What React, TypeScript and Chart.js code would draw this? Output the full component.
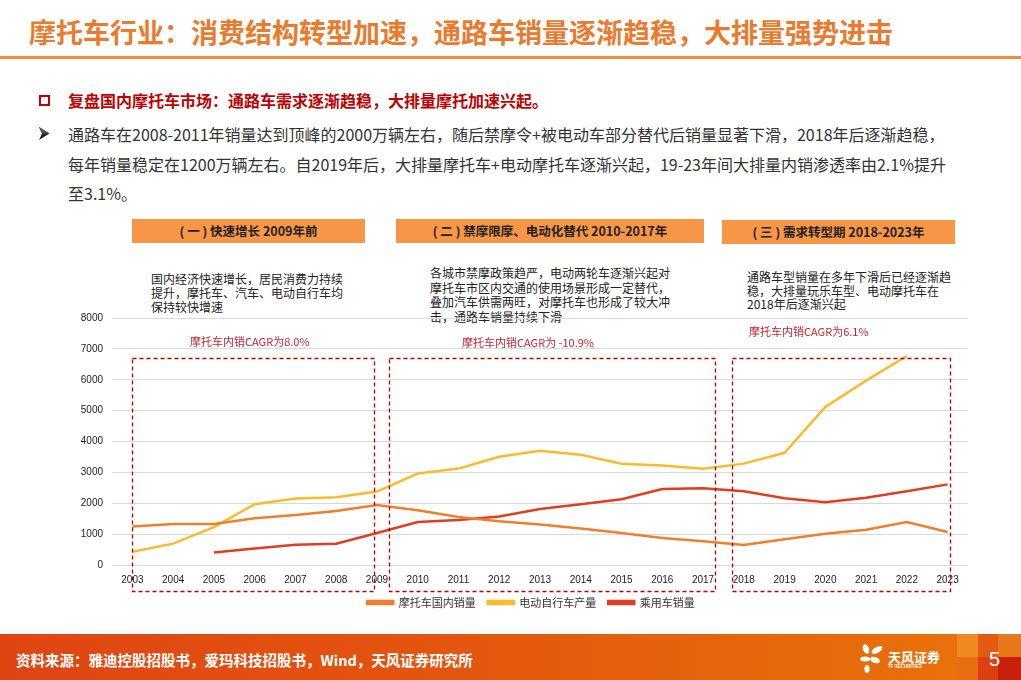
import React, { useEffect, useRef } from "react";
import { Chart, registerables } from "chart.js";

Chart.register(...registerables);

const YEARS = ["2003","2004","2005","2006","2007","2008","2009","2010","2011","2012","2013","2014","2015","2016","2017","2018","2019","2020","2021","2022","2023"];
const MOTO_SALES = [1248,1331,1331,1514,1619,1747,1939,1770,1555,1418,1312,1184,1034,874,768,650,832,1011,1139,1395,1066];
const EBIKE_OUTPUT = [426,691,1226,1971,2154,2195,2378,2963,3123,3507,3699,3571,3283,3219,3114,3283,3635,5120,5971,6771,null];
const CAR_SALES = [null,null,403,531,659,691,1034,1395,1459,1568,1811,1971,2131,2464,2483,2389,2165,2035,2176,2387,2611];
const SERIES_NAMES = ["摩托车国内销量","电动自行车产量","乘用车销量"];
const Y_MAX = 8000;
const Y_STEP = 1000;

const PERIOD_FROM = ["2003","2009","2018"];
const PERIOD_TO = ["2009","2017","2023"];

const CJK = '"Noto Sans CJK SC", "Noto Sans", sans-serif';

const periodBoxes = {
  id: "periodBoxes",
  afterLayout(chart: any) {
    if (chart.legend) {
      chart.legend.left -= 9;
      chart.legend.right -= 9;
    }
  },
  afterDraw(chart: any) {
    const { ctx, scales, chartArea } = chart;
    const x = scales.x;
    const y = scales.y;
    const step = x.getPixelForValue(1) - x.getPixelForValue(0);
    const offsL = [-0.02, 0.3, -0.29];
    const offsR = [-0.08, 0.3, 0.05];
    const top = y.getPixelForValue(6720);
    const bottom = chartArea.bottom + 26;
    ctx.save();
    ctx.setLineDash([4, 3]);
    ctx.lineWidth = 1.3;
    ctx.strokeStyle = "#C00000";
    for (let i = 0; i < PERIOD_FROM.length; i++) {
      const l = x.getPixelForValue(YEARS.indexOf(PERIOD_FROM[i])) + offsL[i] * step;
      const r = x.getPixelForValue(YEARS.indexOf(PERIOD_TO[i])) + offsR[i] * step;
      ctx.strokeRect(Math.round(l) + 0.5, Math.round(top) + 0.5, Math.round(r - l), Math.round(bottom - top));
    }
    ctx.restore();
  },
};

const CANVAS_W = 920;
const CANVAS_H = 315;

function LineChart() {
  const ref = useRef<HTMLCanvasElement | null>(null);
  useEffect(() => {
    if (!ref.current) return;
    const colors = ["#EE7F2D", "#FDBA2C", "#DE3F22"];
    const chart = new Chart(ref.current, {
      type: "line",
      data: {
        labels: YEARS,
        datasets: [MOTO_SALES, EBIKE_OUTPUT, CAR_SALES].map((d, i) => ({
          label: SERIES_NAMES[i],
          data: d as any,
          borderColor: colors[i],
          backgroundColor: colors[i],
          borderWidth: 2.5,
          pointRadius: 0,
          tension: 0,
          spanGaps: false,
        })),
      },
      options: {
        animation: false,
        responsive: false,
        maintainAspectRatio: false,
        layout: { padding: { left: 0, right: 12, top: 6, bottom: 0 } },
        scales: {
          x: {
            offset: true,
            grid: { display: false, drawTicks: false },
            border: { display: false },
            ticks: { font: { family: "Liberation Sans", size: 10 }, color: "#222", maxRotation: 0, autoSkip: false, padding: 9 },
            afterFit: (s: any) => { s.height = 20; },
          },
          y: {
            min: 0,
            max: Y_MAX,
            grid: { color: "#D9D9D9", lineWidth: 1, drawTicks: false },
            border: { display: false },
            ticks: {
              stepSize: Y_STEP,
              font: { family: "Liberation Sans", size: 10 },
              color: "#222",
              padding: 9,
              callback: (v: any) => String(v),
            },
            afterFit: (s: any) => { s.width = 52; },
          },
        },
        plugins: {
          legend: {
            position: "bottom",
            fullSize: false,
            labels: {
              boxWidth: 26,
              boxHeight: 3,
              padding: 12,
              color: "#333",
              font: { family: CJK, size: 11 },
            },
          },
          tooltip: { enabled: false },
        },
      },
      plugins: [periodBoxes],
    });
    return () => chart.destroy();
  }, []);
  return <canvas ref={ref} width={CANVAS_W} height={CANVAS_H} style={{ width: CANVAS_W, height: CANVAS_H, display: "block" }} />;
}

const abs = (s: React.CSSProperties): React.CSSProperties => ({ position: "absolute", whiteSpace: "nowrap", ...s });

export default function App() {
  const bodyLines = [
    "通路车在2008-2011年销量达到顶峰的2000万辆左右，随后禁摩令+被电动车部分替代后销量显著下滑，2018年后逐渐趋稳，",
    "每年销量稳定在1200万辆左右。自2019年后，大排量摩托车+电动摩托车逐渐兴起，19-23年间大排量内销渗透率由2.1%提升",
    "至3.1%。",
  ];
  const desc1 = ["国内经济快速增长，居民消费力持续", "提升，摩托车、汽车、电动自行车均", "保持较快增速"];
  const desc2 = ["各城市禁摩政策趋严，电动两轮车逐渐兴起对", "摩托车市区内交通的使用场景形成一定替代，", "叠加汽车供需两旺，对摩托车也形成了较大冲", "击，通路车销量持续下滑"];
  const desc3 = ["通路车型销量在多年下滑后已经逐渐趋", "稳，大排量玩乐车型、电动摩托车在", "2018年后逐渐兴起"];
  const headerBox = (left: number, top: number, width: number, text: string) => (
    <div style={abs({ left, top, width, height: 24, background: "#F79646", color: "#1F1F1F", fontFamily: CJK, fontWeight: 700, fontSize: 12.5, lineHeight: "24px", textAlign: "center" })}>{text}</div>
  );
  const descBlock = (left: number, top: number, lines: string[], lh: number) =>
    lines.map((t, i) => (
      <div key={i} style={abs({ left, top: top + i * lh - 8, fontFamily: CJK, fontSize: 12, lineHeight: "16px", color: "#222" })}>{t}</div>
    ));
  return (
    <div style={{ position: "absolute", left: 0, top: 0, width: 1021, height: 680, overflow: "hidden", background: "#fff" }}>
      <div style={abs({ left: 29, top: 13, fontFamily: CJK, fontWeight: 700, fontSize: 27, lineHeight: "38px", color: "#EA7A2E" })}>
        摩托车行业：消费结构转型加速，通路车销量逐渐趋稳，大排量强势进击
      </div>
      <div style={abs({ left: 0, top: 56, width: 1021, height: 3, background: "#F08C3C" })} />
      <div style={abs({ left: 39, top: 95, width: 7, height: 7, border: "2px solid #C00000" })} />
      <div style={abs({ left: 68, top: 88, fontFamily: CJK, fontWeight: 700, fontSize: 16, lineHeight: "24px", color: "#C00000" })}>
        复盘国内摩托车市场：通路车需求逐渐趋稳，大排量摩托加速兴起。
      </div>
      <svg style={{ position: "absolute", left: 39, top: 127 }} width={11} height={13} viewBox="0 0 11 13">
        <polygon points="0,0 10.5,6.5 0,13 3,6.5" fill="#222" />
        <polygon points="0,0 10.5,6.5 3,6.5" fill="#555" />
      </svg>
      {bodyLines.map((t, i) => (
        <div key={i} style={abs({ left: 68, top: 122 + i * 29.5, fontFamily: CJK, fontSize: 16, lineHeight: "24px", color: "#333" })}>{t}</div>
      ))}
      {headerBox(132, 219, 233, "( 一 ) 快速增长 2009年前")}
      {headerBox(396, 219, 308, "( 二 ) 禁摩限摩、电动化替代 2010-2017年")}
      {headerBox(722, 220, 233, "( 三 ) 需求转型期 2018-2023年")}
      {descBlock(151, 279, desc1, 14)}
      {descBlock(430, 273, desc2, 14.7)}
      {descBlock(747, 277, desc3, 13.5)}
      <div style={{ position: "absolute", left: 60, top: 303 }}>
        <LineChart />
      </div>
      <div style={abs({ left: 190, top: 333, fontFamily: CJK, fontSize: 11, lineHeight: "16px", color: "#CC1F2F" })}>摩托车内销CAGR为8.0%</div>
      <div style={abs({ left: 462, top: 334, fontFamily: CJK, fontSize: 11, lineHeight: "16px", color: "#CC1F2F" })}>摩托车内销CAGR为 -10.9%</div>
      <div style={abs({ left: 749, top: 323, fontFamily: CJK, fontSize: 11, lineHeight: "16px", color: "#CC1F2F" })}>摩托车内销CAGR为6.1%</div>
      <div style={abs({ left: 0, top: 634, width: 1021, height: 46, background: "linear-gradient(90deg, #DF4513 0%, #E4560F 45%, #E9700A 93%)" })} />
      <div style={abs({ left: 957, top: 634, width: 21, height: 23, background: "#EE8A1E" })} />
      <div style={abs({ left: 978, top: 634, width: 20, height: 23, background: "#E55A12" })} />
      <div style={abs({ left: 998, top: 634, width: 23, height: 23, background: "#E8761A" })} />
      <div style={abs({ left: 957, top: 657, width: 21, height: 23, background: "#E86E0F" })} />
      <div style={abs({ left: 978, top: 657, width: 20, height: 23, background: "#DD4010" })} />
      <div style={abs({ left: 998, top: 657, width: 23, height: 23, background: "#C8200C" })} />
      <div style={abs({ left: 16, top: 649, fontFamily: CJK, fontWeight: 700, fontSize: 14.5, lineHeight: "22px", color: "#fff" })}>
        资料来源：雅迪控股招股书，爱玛科技招股书，Wind，天风证券研究所
      </div>
      <svg style={{ position: "absolute", left: 860, top: 643 }} width={26} height={32} viewBox="0 0 26 32">
        <ellipse cx="6" cy="6" rx="3" ry="5" fill="#fff" transform="rotate(-20 6 6)" />
        <ellipse cx="17" cy="7" rx="6" ry="3" fill="#fff" transform="rotate(-30 17 7)" />
        <ellipse cx="5" cy="16" rx="5" ry="2.5" fill="#fff" />
        <ellipse cx="15" cy="17" rx="5" ry="3" fill="#fff" transform="rotate(20 15 17)" />
        <ellipse cx="7" cy="26" rx="2.5" ry="4" fill="#fff" />
      </svg>
      <div style={abs({ left: 888, top: 648, fontFamily: CJK, fontWeight: 700, fontSize: 13, lineHeight: "18px", color: "#fff" })}>天风证券</div>
      <div style={abs({ left: 888, top: 664, fontFamily: "Liberation Sans", fontWeight: 700, fontSize: 4.5, lineHeight: "6px", color: "#fff" })}>TF SECURITIES</div>
      <div style={abs({ left: 989, top: 646, fontFamily: "Liberation Sans", fontSize: 20, lineHeight: "26px", color: "#fff" })}>5</div>
    </div>
  );
}
